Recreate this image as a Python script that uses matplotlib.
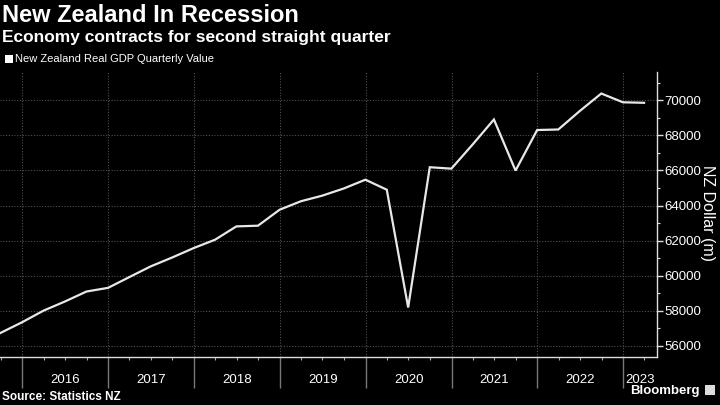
import matplotlib
matplotlib.use("Agg")
import matplotlib.pyplot as plt
import matplotlib.dates as mdates
import matplotlib.transforms as mtransforms
import pandas as pd
import numpy as np

quarters = pd.date_range("2015-09-30", periods=31, freq="QE")
gdp = [56740, 57350, 58010, 58530, 59100, 59310, 59920, 60530, 61040, 61580,
       62050, 62810, 62850, 63760, 64240, 64560, 64970, 65470, 64900, 58190,
       66180, 66100, 67470, 68900, 65990, 68300, 68330, 69380, 70380, 69880, 69850]
years = list(range(2016, 2024))
yticks = list(range(56000, 70001, 2000))

title = "New Zealand In Recession"
subtitle = "Economy contracts for second straight quarter"
legend_label = "New Zealand Real GDP Quarterly Value"
ylabel = "NZ Dollar (m)"
source = "Source: Statistics NZ"

plt.rcParams['font.family'] = ['Liberation Sans', 'DejaVu Sans']
fig = plt.figure(figsize=(7.2, 4.05), dpi=100, facecolor="black")
ax = fig.add_axes([0.0, 0.1185, 0.9125, 0.7035], facecolor="black")

ax.plot(quarters, gdp, color="#e8e8e8", lw=1.6, solid_joinstyle="miter", zorder=3)

xmin = pd.Timestamp("2015-09-28")
xmax = pd.Timestamp("2023-05-25")
ax.set_xlim(xmin, xmax)
ax.set_ylim(55370, 71600)

# grid
ax.set_yticks(yticks)
ax.set_yticks(range(56000, 71600, 1000), minor=True)
ax.grid(axis="y", which="major", color="#505050", ls=(0, (1, 1.5)), lw=0.8)
for y in years:
    ax.axvline(pd.Timestamp(f"{y}-01-01"), color="#505050", ls=(0, (1, 1.5)), lw=0.8, zorder=1)

# spines
for s in ["top", "left"]:
    ax.spines[s].set_visible(False)
ax.spines["right"].set_color("#dddddd")
ax.spines["bottom"].set_color("#dddddd")
ax.spines["right"].set_linewidth(1.0)
ax.spines["bottom"].set_linewidth(1.0)

# y axis on right
ax.yaxis.tick_right()
ax.tick_params(axis="y", which="major", colors="#dddddd", labelcolor="white",
               length=4, width=1, labelsize=9.5, pad=1)
ax.tick_params(axis="y", which="minor", colors="#dddddd", length=2.5, width=0.8)
ax.set_yticklabels([str(v) for v in yticks])
fig.text(0.983, 0.474, ylabel, color="white", fontsize=11.5, rotation=-90,
         ha="center", va="center")

# x ticks: year separators long, quarter minor ticks short
ax.set_xticks([pd.Timestamp(f"{y}-01-01") for y in years])
ax.xaxis.set_minor_locator(mdates.MonthLocator(bymonth=[4, 7, 10]))
ax.tick_params(axis="x", which="major", colors="#777777", length=22, width=1,
               labelbottom=False)
ax.tick_params(axis="x", which="minor", colors="#aaaaaa", length=2.5, width=0.8)

trans = mtransforms.blended_transform_factory(ax.transData, ax.transAxes)
xmin_n = mdates.date2num(xmin)
xmax_n = mdates.date2num(xmax)
for y in years:
    a = max(mdates.date2num(pd.Timestamp(f"{y}-01-01")), xmin_n)
    b = min(mdates.date2num(pd.Timestamp(f"{y+1}-01-01")), xmax_n)
    ax.text((a + b) / 2, -0.08, str(y), transform=trans, ha="center", va="center",
            color="white", fontsize=9.5)

# titles
fig.text(0.003, 0.962, title, color="white", fontsize=17, fontweight="bold",
         ha="left", va="center")
fig.text(0.003, 0.908, subtitle, color="white", fontsize=12.5, fontweight="bold",
         ha="left", va="center")
fig.patches.append(plt.Rectangle((0.007, 0.845), 0.011, 0.02, transform=fig.transFigure,
                                 facecolor="white", edgecolor="none"))
fig.text(0.021, 0.855, legend_label, color="white", fontsize=8, ha="left", va="center")
fig.text(0.003, 0.02, source, color="white", fontsize=8.5, fontweight="bold",
         ha="left", va="center")
fig.text(0.972, 0.035, "Bloomberg", color="white", fontsize=9.5, fontweight="bold",
         ha="right", va="center")
fig.patches.append(plt.Rectangle((0.979, 0.025), 0.014, 0.025, transform=fig.transFigure,
                                 facecolor="#dddddd", edgecolor="none"))

fig.savefig("out.png", dpi=100, facecolor="black")
